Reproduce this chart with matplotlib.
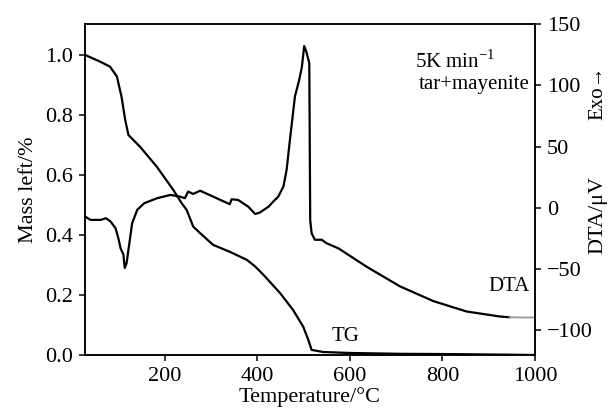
import numpy as np
import matplotlib
matplotlib.use("Agg")
import matplotlib.pyplot as plt

plt.rcParams["font.family"] = ["Liberation Serif", "DejaVu Serif"]
plt.rcParams["mathtext.fontset"] = "custom"
plt.rcParams["mathtext.rm"] = "Liberation Serif"
plt.rcParams["font.size"] = 16

# TG curve: temperature (degC) vs mass left (fraction)
tg_temp = [27, 59, 81, 96, 106, 114, 121, 146, 182, 218, 236, 247, 261, 276,
           304, 340, 377, 395, 413, 449, 477, 499, 510, 517, 542, 600, 708, 816, 946, 1000]
tg_mass = [1.0, 0.978, 0.961, 0.928, 0.861, 0.783, 0.733, 0.694, 0.628, 0.55, 0.506,
           0.483, 0.428, 0.406, 0.367, 0.344, 0.317, 0.295, 0.267, 0.206, 0.15, 0.094,
           0.05, 0.017, 0.010, 0.0067, 0.004, 0.003, 0.001, 0.0]

# DTA curve: temperature (degC) vs signal (uV)
dta_temp = [27, 39, 61, 72, 82, 93, 100, 104, 110, 113, 117, 122, 129, 140, 155,
            183, 212, 232, 243, 250, 261, 276, 304, 340, 344, 358, 380, 395, 405,
            424, 434, 445, 456, 463, 470, 481, 490, 496, 501, 506, 512, 514, 517,
            524, 539, 549, 575, 636, 708, 780, 852, 924, 945]
dta_sig = [-7, -9.8, -9.8, -8.4, -11, -16.5, -26, -33, -38, -49, -45, -31.5, -12.5,
           -1.6, 3.8, 7.9, 10.6, 9.2, 7.9, 13.3, 11.4, 14, 9.2, 3, 7, 6.5, 1, -5,
           -3.8, 1, 5.1, 9.2, 17.4, 31, 55, 91, 104, 115, 132, 127, 118, -10, -20.6,
           -26, -26, -28.8, -33, -48, -64, -76, -84.5, -88.6, -89.2]
# faint tail of the DTA trace
dta_tail_temp = [945, 970, 1000]
dta_tail_sig = [-89.2, -89.4, -89.4]

fig = plt.figure(figsize=(6.14, 4.08), dpi=100)
ax = fig.add_axes([0.1384, 0.1299, 0.7329, 0.8113])
ax2 = ax.twinx()

ax.plot(tg_temp, tg_mass, color="black", lw=1.6)
ax2.plot(dta_temp, dta_sig, color="black", lw=1.6)
ax2.plot(dta_tail_temp, dta_tail_sig, color="#9a9a9a", lw=1.3)

ax.set_xlim(27, 1000)
ax.set_ylim(0, 1.103)
ax2.set_ylim(-120, 150)
ax.set_xticks([200, 400, 600, 800, 1000])
ax.set_yticks([0.0, 0.2, 0.4, 0.6, 0.8, 1.0])
ax.set_yticklabels(["0.0", "0.2", "0.4", "0.6", "0.8", "1.0"])
ax2.set_yticks([-100, -50, 0, 50, 100, 150])

for a in (ax, ax2):
    for s in a.spines.values():
        s.set_linewidth(1.1)
    a.tick_params(direction="out", length=4.5, width=1.1, labelsize=16, pad=4)

ax.set_xlabel("Temperature/°C", fontsize=16, labelpad=1)
ax.set_ylabel("Mass left/%", fontsize=16, labelpad=5)
fig.text(598 / 614, 1 - 93 / 408, "Exo→", rotation=90,
         ha="center", va="center", fontsize=15)
fig.text(598 / 614, 1 - 215 / 408, "DTA/μV", rotation=90,
         ha="center", va="center", fontsize=16)

ax.text(741, 0.977, "5K min$^{-1}$", fontsize=15, ha="left", va="center")
ax.text(989, 0.903, "tar+mayenite", fontsize=15, ha="right", va="center")
ax.text(989, 0.227, "DTA", fontsize=15, ha="right", va="center")
ax.text(561, 0.063, "TG", fontsize=15, ha="left", va="center")

fig.savefig("out.png", dpi=100)
